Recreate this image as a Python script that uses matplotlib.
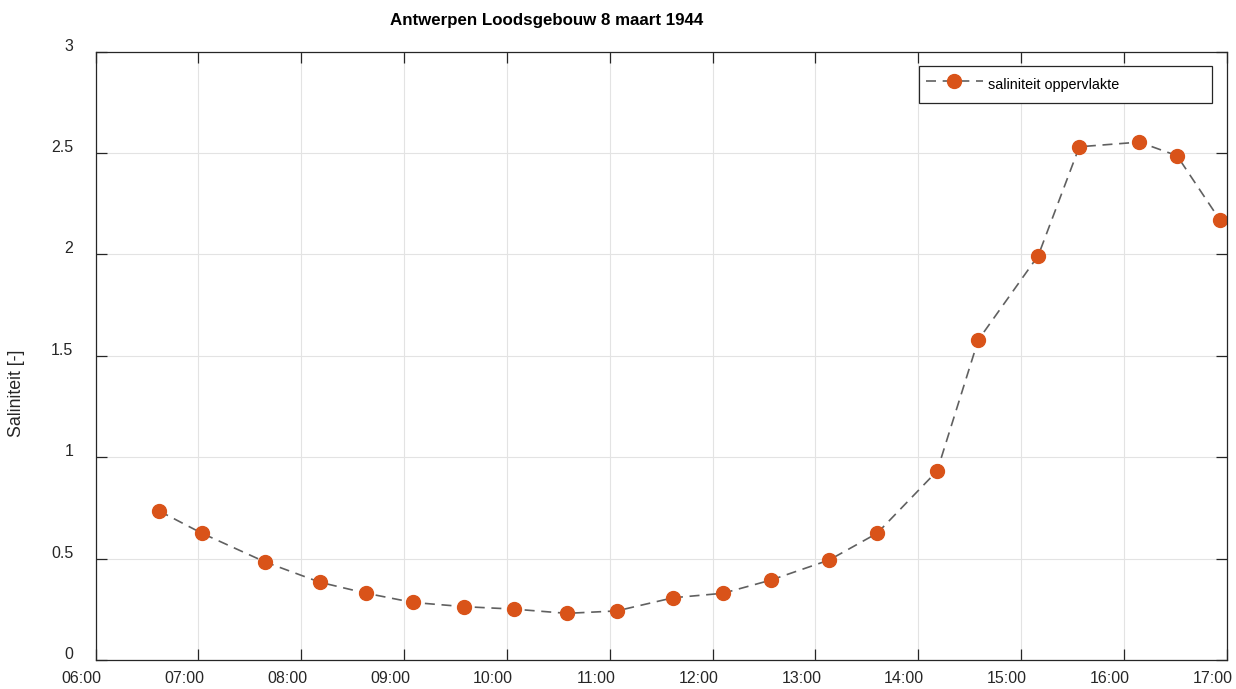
import numpy as np
import pandas as pd
import matplotlib
matplotlib.use('Agg')
import matplotlib.pyplot as plt
import matplotlib.dates as mdates
from matplotlib.transforms import ScaledTranslation

# measured times (8 March 1944) and surface salinity
tijden = ['06:37', '07:02', '07:39', '08:11', '08:38', '09:05', '09:35',
          '10:04', '10:35', '11:04', '11:37', '12:06', '12:34', '13:08',
          '13:36', '14:11', '14:35', '15:10', '15:34', '16:09', '16:31',
          '16:56']
saliniteit = [0.735, 0.625, 0.483, 0.383, 0.329, 0.284, 0.263, 0.251,
              0.230, 0.242, 0.307, 0.329, 0.394, 0.493, 0.625, 0.932,
              1.578, 1.994, 2.531, 2.554, 2.487, 2.170]
yticks = [0, 0.5, 1, 1.5, 2, 2.5, 3]
ytick_labels = ['0', '0.5', '1', '1.5', '2', '2.5', '3']

dag = '1944-03-08 '
t = pd.to_datetime([dag + s for s in tijden])
t_start = pd.Timestamp(dag + '06:00')
t_end = pd.Timestamp(dag + '17:00')

plt.rcParams['font.family'] = ['Liberation Sans', 'DejaVu Sans']
txtcol = '#262626'

fig = plt.figure(figsize=(12.36, 6.89), dpi=100)
ax = fig.add_axes([0.0774, 0.0421, 0.9925 - 0.0774, 0.925 - 0.0421])

ax.plot(t, saliniteit, linestyle=(0, (6, 4)), color='#606060', lw=1.2,
        marker='o', markersize=10, markerfacecolor='#D95319',
        markeredgecolor='#D95319', label='saliniteit oppervlakte')

ax.set_xlim(t_start, t_end)
ax.set_ylim(0, 3)
ax.xaxis.set_major_locator(mdates.HourLocator())
ax.xaxis.set_major_formatter(mdates.DateFormatter('%H:%M'))
ax.set_yticks(yticks)
ax.set_yticklabels(ytick_labels)

ax.grid(True, color='#e3e3e3', lw=0.8)
ax.set_axisbelow(True)
for sp in ax.spines.values():
    sp.set_color(txtcol)
    sp.set_linewidth(0.9)
ax.tick_params(direction='in', length=8, width=0.9, color=txtcol,
               labelcolor=txtcol, labelsize=11.5, top=True, right=True)
ax.tick_params(axis='y', pad=16)
ax.tick_params(axis='x', pad=8)

# MATLAB-like label placement
for lab in ax.get_yticklabels():
    lab.set_transform(lab.get_transform() + ScaledTranslation(0, 0.07, fig.dpi_scale_trans))
for lab in ax.get_xticklabels():
    lab.set_transform(lab.get_transform() + ScaledTranslation(-0.14, 0, fig.dpi_scale_trans))

fig.text(547 / 1236, 1 - 20 / 689, 'Antwerpen Loodsgebouw 8 maart 1944',
         ha='center', va='center', fontsize=12.2, fontweight='bold', color='black')
fig.text(17 / 1236, 1 - 393 / 689, 'Saliniteit [-]', rotation=90,
         ha='center', va='center', fontsize=12.8, color=txtcol)

leg = ax.legend(loc='upper left', bbox_to_anchor=(0.728, 0.9157, 0.259, 0.0608),
                mode='expand', borderaxespad=0, fancybox=False, framealpha=1,
                edgecolor=txtcol, fontsize=10.4, handlelength=4.0,
                handletextpad=0.3, handleheight=2.2, borderpad=0.45, numpoints=1)
leg.get_frame().set_linewidth(0.9)

fig.savefig('out.png', dpi=100)
